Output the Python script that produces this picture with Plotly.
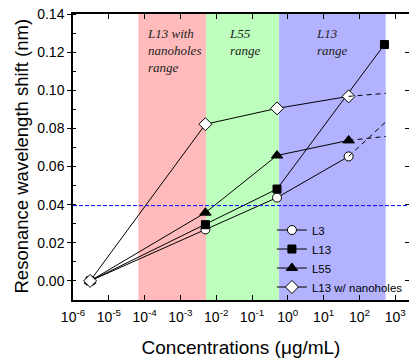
import plotly.graph_objects as go

# ---- data ----
conc = [3e-6, 5e-3, 0.5, 50]
conc_l13 = [3e-6, 5e-3, 0.5, 500]
L3 = [0.0, 0.027, 0.0437, 0.0653]
L13 = [0.0, 0.0295, 0.0482, 0.124]
L55 = [0.0, 0.0358, 0.0658, 0.0737]
L13_nh = [0.0, 0.0822, 0.0905, 0.0968]

ext_x = [50, 550]
ext_L3 = [0.0653, 0.0835]
ext_L55 = [0.0737, 0.0758]
ext_L13_nh = [0.0968, 0.0984]

bands = [(6.7e-5, 5.2e-3, "rgb(255,187,187)"),
         (5.2e-3, 0.57, "rgb(190,255,190)"),
         (0.57, 540, "rgb(178,178,255)")]
band_labels = ["L13 with<br>nanoholes<br>range", "L55<br>range", "L13<br>range"]
threshold = 0.0395

xtick_vals = [1e-6, 1e-5, 1e-4, 1e-3, 1e-2, 1e-1, 1e0, 1e1, 1e2, 1e3]
xtick_text = ["10<sup>-6</sup>", "10<sup>-5</sup>", "10<sup>-4</sup>", "10<sup>-3</sup>",
              "10<sup>-2</sup>", "10<sup>-1</sup>", "10<sup>0</sup>", "10<sup>1</sup>",
              "10<sup>2</sup>", "10<sup>3</sup>"]
ytick_vals = [0.0, 0.02, 0.04, 0.06, 0.08, 0.10, 0.12, 0.14]
ytick_text = ["0.00", "0.02", "0.04", "0.06", "0.08", "0.10", "0.12", "0.14"]

FONT = "Liberation Sans"
SERIF = "Liberation Serif"

fig = go.Figure()

line = dict(color="black", width=1)
fig.add_trace(go.Scatter(x=conc, y=L3, name="L3", mode="lines+markers", line=line,
                         marker=dict(symbol="circle", size=9, color="white",
                                     line=dict(color="black", width=1))))
fig.add_trace(go.Scatter(x=conc_l13, y=L13, name="L13", mode="lines+markers", line=line,
                         marker=dict(symbol="square", size=8, color="black",
                                     line=dict(color="black", width=1))))
fig.add_trace(go.Scatter(x=conc, y=L55, name="L55", mode="lines+markers", line=line,
                         marker=dict(symbol="triangle-up", size=10, color="black",
                                     line=dict(color="black", width=1))))
fig.add_trace(go.Scatter(x=conc, y=L13_nh, name="L13 w/ nanoholes", mode="lines+markers",
                         line=line,
                         marker=dict(symbol="diamond", size=10, color="white",
                                     line=dict(color="black", width=1))))

dline = dict(color="black", width=1, dash="5px,4px")
for ey in (ext_L3, ext_L55, ext_L13_nh):
    fig.add_trace(go.Scatter(x=ext_x, y=ey, mode="lines", line=dline,
                             showlegend=False, hoverinfo="skip"))

# invisible trace for right-side inward ticks
fig.add_trace(go.Scatter(x=[], y=[], yaxis="y2", showlegend=False, hoverinfo="skip"))

shapes = []
for x0, x1, col in bands:
    shapes.append(dict(type="rect", xref="x", yref="paper", x0=x0, x1=x1, y0=0, y1=1,
                       fillcolor=col, line=dict(width=0), layer="below"))
shapes.append(dict(type="line", xref="paper", yref="y", x0=0, x1=1, y0=threshold,
                   y1=threshold, layer="above",
                   line=dict(color="#0000FF", width=1, dash="4px,2px")))

ann_pos = [(0.213, 0.966), (0.458, 0.966), (0.717, 0.966)]
annotations = []
for (ax, ay), txt in zip(ann_pos, band_labels):
    parts = txt.split("<br>")
    html = "<br>".join("<i>" + p + "</i>" for p in parts)
    annotations.append(dict(xref="paper", yref="paper", x=ax, y=ay, text=html,
                            showarrow=False, xanchor="left", yanchor="top", align="left",
                            font=dict(family=SERIF, size=13, color="#222")))

# y-axis title as rotated text
annotations.append(dict(xref="paper", yref="paper", x=-0.152, y=0.505,
                        text="Resonance wavelength shift (nm)", textangle=-90,
                        showarrow=False, xanchor="center", yanchor="middle",
                        font=dict(family=FONT, size=18.5, color="black")))

fig.update_layout(
    width=409, height=358,
    margin=dict(l=73, r=0, t=14, b=58),
    paper_bgcolor="white", plot_bgcolor="white",
    font=dict(family=FONT, size=14, color="black"),
    shapes=shapes,
    annotations=annotations,
    showlegend=True,
    legend=dict(x=0.592, y=0.145, xanchor="left", yanchor="middle",
                bgcolor="rgba(0,0,0,0)", font=dict(family=FONT, size=11.5, color="black"),
                tracegroupgap=0, itemwidth=30),
    xaxis=dict(type="log", range=[-6, 3.385], tickvals=xtick_vals, ticktext=xtick_text,
               ticks="inside", ticklen=5, tickcolor="black", showline=True,
               linecolor="black", linewidth=1.5, mirror="ticks", showgrid=False,
               zeroline=False, tickfont=dict(size=14), automargin=False,
               ticklabelstandoff=3,
               title=dict(text="Concentrations (\u03bcg/mL)", font=dict(size=19), standoff=17)),
    yaxis=dict(range=[-0.01, 0.14], tickvals=ytick_vals, ticktext=ytick_text,
               ticks="outside", ticklen=4, tickcolor="black", showline=True,
               linecolor="black", linewidth=1.5, mirror=False, showgrid=False,
               zeroline=False, tickfont=dict(size=14), automargin=False,
               minor=dict(ticks="inside", ticklen=3, dtick=0.01, tick0=0, tickcolor="black",
                          showgrid=False)),
    yaxis2=dict(overlaying="y", side="right", range=[-0.01, 0.14], tickvals=ytick_vals,
                showticklabels=False, ticks="inside", ticklen=4, tickcolor="black",
                showline=False, showgrid=False, zeroline=False, automargin=False),
)

fig.write_html("out.html", config={"displayModeBar": False},
               post_script="document.body.style.margin='0px';")
